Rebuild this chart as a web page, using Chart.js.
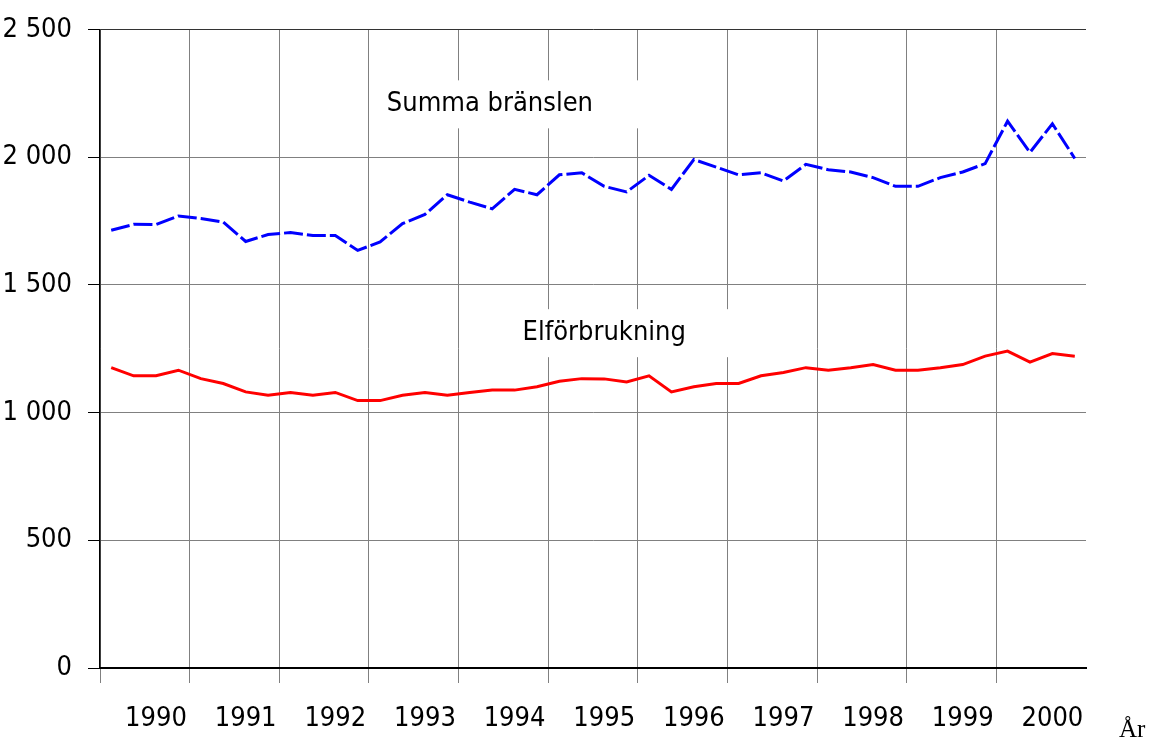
<!DOCTYPE html>
<html>
<head>
<meta charset="utf-8">
<script src="https://cdn.jsdelivr.net/npm/chart.js@4.4.0/dist/chart.umd.min.js"></script>
<style>
  body { margin: 0; background: #fff; }
  #wrap { width: 1149px; height: 740px; }
</style>
</head>
<body>
<div id="wrap"><canvas id="energi"></canvas></div>
<script>
var years = ['1990', '1991', '1992', '1993', '1994', '1995', '1996', '1997', '1998', '1999', '2000'];

// kvartalsvärden, 4 per år
var summaBranslen = [
  1714, 1737, 1736, 1770,
  1760, 1746, 1670, 1697,
  1705, 1693, 1693, 1635,
  1668, 1740, 1776, 1853,
  1824, 1798, 1874, 1853,
  1931, 1939, 1886, 1864,
  1929, 1874, 1991, 1961,
  1931, 1939, 1907, 1972,
  1951, 1942, 1920, 1886,
  1886, 1920, 1942, 1975,
  2141, 2019, 2131, 1995
];
var elforbrukning = [
  1176, 1144, 1144, 1166,
  1133, 1114, 1081, 1068,
  1079, 1068, 1079, 1047,
  1047, 1068, 1079, 1068,
  1079, 1088, 1088, 1101,
  1123, 1133, 1132, 1120,
  1144, 1081, 1101, 1114,
  1114, 1144, 1157, 1176,
  1166, 1176, 1188, 1166,
  1166, 1176, 1188, 1221,
  1241, 1198, 1231, 1221
];
var seriesNames = ['Summa bränslen', 'Elförbrukning'];

var labels = [];
years.forEach(function (y) {
  for (var q = 1; q <= 4; q++) labels.push(y + ' kv ' + q);
});

var font = "'Liberation Sans Narrow', 'Arial Narrow', 'DejaVu Sans Condensed', sans-serif";
var fontSize = 27;

var textLabels = {
  id: 'textLabels',
  beforeDatasetsDraw: function (chart) {
    var c = chart.ctx, x = chart.scales.x, y = chart.scales.y;
    var items = [
      { text: seriesNames[0], cx: x.getPixelForValue(16.9), cy: y.getPixelForValue(2207), l: 110, r: 190 },
      { text: seriesNames[1], cx: x.getPixelForValue(22), cy: y.getPixelForValue(1311), l: 90, r: 166 }
    ];
    c.save();
    c.font = fontSize + 'px ' + font;
    c.textAlign = 'center';
    c.textBaseline = 'middle';
    items.forEach(function (it) {
      c.fillStyle = '#fff';
      c.fillRect(it.cx - it.l, it.cy - 24, it.l + it.r, 48);
      c.fillStyle = '#000';
      c.fillText(it.text, it.cx, it.cy);
    });
    c.restore();
  },
  afterDraw: function (chart) {
    var c = chart.ctx, a = chart.chartArea;
    c.save();
    c.font = '25px "Liberation Serif", "Times New Roman", serif';
    c.fillStyle = '#000';
    c.textAlign = 'left';
    c.textBaseline = 'alphabetic';
    c.fillText('År', a.right + 33, 737);
    c.restore();
  }
};

new Chart(document.getElementById('energi'), {
  type: 'line',
  data: {
    labels: labels,
    datasets: [{
      label: seriesNames[0],
      data: summaBranslen,
      borderColor: '#0000ff',
      borderWidth: 3,
      borderDash: [19, 4],
      pointRadius: 0,
      tension: 0,
      fill: false
    }, {
      label: seriesNames[1],
      data: elforbrukning,
      borderColor: '#ff0000',
      borderWidth: 3,
      pointRadius: 0,
      tension: 0,
      fill: false
    }]
  },
  options: {
    responsive: true,
    maintainAspectRatio: false,
    animation: false,
    layout: { padding: { top: 21, right: 63, left: 0, bottom: 0 } },
    plugins: {
      legend: { display: false },
      tooltip: { enabled: false }
    },
    scales: {
      x: {
        type: 'category',
        offset: true,
        grid: {
          offset: true,
          lineWidth: 1,
          tickLength: 15,
          color: function (ctx) {
            if (ctx.index === labels.length) return '#333';
            return ctx.index % 4 === 0 ? '#808080' : 'rgba(0,0,0,0)';
          }
        },
        border: { color: '#000', width: 2 },
        ticks: {
          autoSkip: false,
          maxRotation: 0,
          padding: 20,
          color: '#000',
          font: { family: font, size: fontSize },
          callback: function (val, i) {
            return i % 4 === 2 ? years[Math.floor(i / 4)] : '';
          }
        },
        afterFit: function (s) { s.height = 72; }
      },
      y: {
        min: 0,
        max: 2500,
        ticks: {
          stepSize: 500,
          padding: 16,
          color: '#000',
          font: { family: font, size: fontSize, lineHeight: 1 },
          callback: function (v) {
            return String(v).replace(/\B(?=(\d{3})+(?!\d))/g, ' ');
          }
        },
        grid: {
          tickLength: 12,
          tickColor: '#000',
          color: function (ctx) {
            return ctx.tick && ctx.tick.value === 2500 ? '#333' : '#808080';
          }
        },
        border: { color: '#000', width: 1.5 },
        afterFit: function (s) { s.width = 100; }
      }
    }
  },
  plugins: [textLabels]
});
</script>
</body>
</html>
